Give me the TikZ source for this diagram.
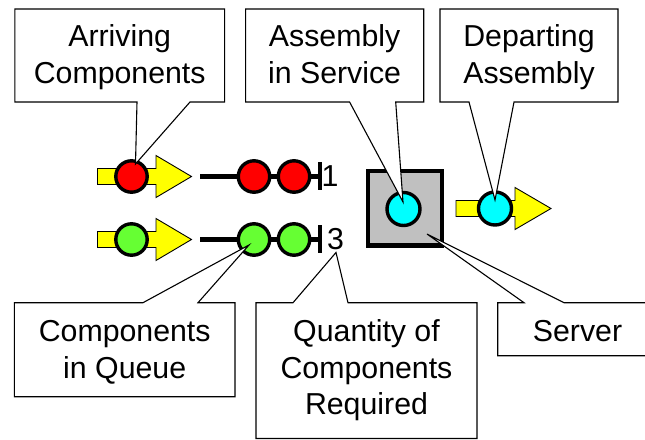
\documentclass[tikz,border=0pt]{standalone}
\usepackage{fontspec}
\setmainfont{Liberation Sans}
\definecolor{ballred}{HTML}{FF0000}
\definecolor{ballgreen}{HTML}{66FF33}
\definecolor{ballcyan}{HTML}{00FFFF}
\definecolor{flowyellow}{HTML}{FFFF00}
\definecolor{servergray}{HTML}{C0C0C0}
\tikzset{
  ball/.style={circle, draw=black, line width=3.4pt, minimum size=31.4pt, inner sep=0pt},
  bigball/.style={ball, minimum size=33pt},
  flowarrow/.style={fill=flowyellow, draw=black, line width=0.9pt, line join=miter},
  qline/.style={draw=black, line width=4.3pt},
  stopbar/.style={rectangle, fill=black, minimum width=4pt, minimum height=28pt, inner sep=0pt},
  serverbox/.style={rectangle, fill=servergray, draw=black, line width=4.3pt, minimum size=74.3pt, inner sep=0pt},
  callout/.style={fill=white, draw=black, line width=1.1pt, line join=miter},
  % multi-line texts: the base anchor sits on the last line's baseline
  calltext/.style={align=center, anchor=base, inner sep=0pt,
    font=\fontsize{30.3}{36.6}\selectfont},
  qty/.style={anchor=base west, inner sep=0pt, font=\fontsize{30.3}{36.6}\selectfont}
}
\begin{document}
\begin{tikzpicture}[x=1pt,y=-1pt]
\useasboundingbox (0,0) rectangle (645,439);
\clip (0,0) rectangle (645,439);

% arriving flow arrows
\draw[flowarrow] (97.5,168.5) -- (156,168.5) -- (156,155.5) -- (191.5,176.5)
  -- (156,197.5) -- (156,184.5) -- (97.5,184.5) -- cycle;
\draw[flowarrow] (97.5,231.5) -- (156,231.5) -- (156,218.5) -- (191.5,239.5)
  -- (156,260.5) -- (156,247.5) -- (97.5,247.5) -- cycle;
% departing flow arrow
\draw[flowarrow] (456,200.5) -- (515,200.5) -- (515,187.5) -- (551,208.5)
  -- (515,229.5) -- (515,216.5) -- (456,216.5) -- cycle;

% queue lines ending at the stop bars
\coordinate (qa) at (200,176.5);
\coordinate (qb) at (200,239.5);
\node[stopbar] (bar1) at (319.7,176) {};
\node[stopbar] (bar2) at (319.7,239) {};
\draw[qline] (qa) -- (qa -| bar1.center);
\draw[qline] (qb) -- (qb -| bar2.center);

% components
\node[ball, fill=ballred]   (arrR) at (131.5,176.5) {};
\node[ball, fill=ballgreen] (arrG) at (131.5,239.5) {};
\node[ball, fill=ballred]   (qR1)  at (254,176.5) {};
\node[ball, fill=ballred]   (qR2)  at (294,176.5) {};
\node[ball, fill=ballgreen] (qG1)  at (254,239.5) {};
\node[ball, fill=ballgreen] (qG2)  at (294,239.5) {};

% quantities required
\node[qty] (n1) at (321.5,186.7) {1};
\node[qty] (n3) at (327,249.7) {3};

% server with the assembly in service
\node[serverbox] (server) at (405,208.4) {};
\node[bigball, fill=ballcyan] (inservice) at (403.5,209) {};
\node[bigball, fill=ballcyan] (departing) at (495,208.5) {};

% callout tips
\coordinate (tipArr) at (135.5,164);
\coordinate (tipSvc) at (403,202);
\coordinate (tipDep) at (495,200);
\coordinate (tipQue) at (249,245);
\coordinate (tipQty) at (336,252.5);
\coordinate (tipSrv) at (427,234);

% callouts above
\draw[callout] (14.8,9) -- (224.6,9) -- (224.6,102) -- (190,102) -- (tipArr)
  -- (137,102) -- (14.8,102) -- cycle;
\draw[callout] (245.6,9) -- (423.7,9) -- (423.7,102) -- (395.7,102) -- (tipSvc)
  -- (349.6,102) -- (245.6,102) -- cycle;
\draw[callout] (440,9) -- (618,9) -- (618,102) -- (514,102) -- (tipDep)
  -- (469,102) -- (440,102) -- cycle;

% callouts below
\draw[callout] (14.4,302.7) -- (143,302.7) -- (tipQue) -- (198,302.7)
  -- (235,302.7) -- (235,396.7) -- (14.4,396.7) -- cycle;
\draw[callout] (256,302.7) -- (293,302.7) -- (tipQty) -- (348,302.7)
  -- (477,302.7) -- (477,438.5) -- (256,438.5) -- cycle;
\draw[callout] (497.7,302.7) -- (524,302.7) -- (tipSrv) -- (564,302.7)
  -- (660,302.7) -- (660,355.7) -- (497.7,355.7) -- cycle;

% callout texts
\node[calltext] (tArr) at (119.7,83.3) {Arriving\\Components};
\node[calltext] (tSvc) at (334.6,83.3) {Assembly\\in Service};
\node[calltext] (tDep) at (529,83.3) {Departing\\Assembly};
\node[calltext] (tQue) at (124.7,378) {Components\\in Queue};
\node[calltext] (tQty) at (366.5,414.7) {Quantity of\\Components\\Required};
\node[calltext] (tSrv) at (577.5,341) {Server};
\end{tikzpicture}
\end{document}
